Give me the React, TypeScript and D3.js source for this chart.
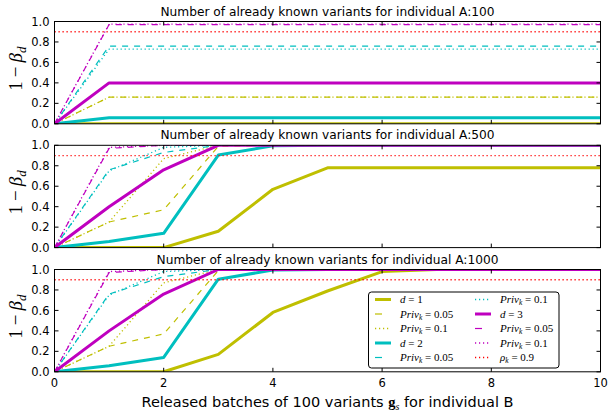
import React from "react";
import * as d3 from "d3";

const xs = [0, 1, 2, 3, 4, 5, 6, 7, 8, 9, 10];
const panelTitles = [
  "Number of already known variants for individual A:100",
  "Number of already known variants for individual A:500",
  "Number of already known variants for individual A:1000",
];

// Panel A:100
const p1_d1 = [0, 0, 0, 0, 0, 0, 0, 0, 0, 0, 0];
const p1_d1_p05 = [0, 0.26, 0.26, 0.26, 0.26, 0.26, 0.26, 0.26, 0.26, 0.26, 0.26];
const p1_d1_p10 = [0, 0.26, 0.26, 0.26, 0.26, 0.26, 0.26, 0.26, 0.26, 0.26, 0.26];
const p1_d2 = [0, 0.06, 0.06, 0.06, 0.06, 0.06, 0.06, 0.06, 0.06, 0.06, 0.06];
const p1_d2_p05 = [0, 0.76, 0.76, 0.76, 0.76, 0.76, 0.76, 0.76, 0.76, 0.76, 0.76];
const p1_d2_p10 = [0, 0.73, 0.73, 0.73, 0.73, 0.73, 0.73, 0.73, 0.73, 0.73, 0.73];
const p1_d3 = [0, 0.4, 0.4, 0.4, 0.4, 0.4, 0.4, 0.4, 0.4, 0.4, 0.4];
const p1_d3_p05 = [0, 0.97, 0.97, 0.97, 0.97, 0.97, 0.97, 0.97, 0.97, 0.97, 0.97];
const p1_d3_p10 = [0, 0.975, 0.975, 0.975, 0.975, 0.975, 0.975, 0.975, 0.975, 0.975, 0.975];

// Panel A:500
const p2_d1 = [0, 0, 0, 0.16, 0.57, 0.78, 0.78, 0.78, 0.78, 0.78, 0.78];
const p2_d1_p05 = [0, 0.25, 0.37, 0.99, 1, 1, 1, 1, 1, 1, 1];
const p2_d1_p10 = [0, 0.25, 0.87, 1, 1, 1, 1, 1, 1, 1, 1];
const p2_d2 = [0, 0.06, 0.14, 0.905, 0.995, 1, 1, 1, 1, 1, 1];
const p2_d2_p05 = [0, 0.76, 0.93, 1, 1, 1, 1, 1, 1, 1, 1];
const p2_d2_p10 = [0, 0.75, 0.98, 1, 1, 1, 1, 1, 1, 1, 1];
const p2_d3 = [0, 0.4, 0.76, 1, 1, 1, 1, 1, 1, 1, 1];
const p2_d3_p05 = [0, 0.97, 1, 1, 1, 1, 1, 1, 1, 1, 1];
const p2_d3_p10 = [0, 0.98, 1, 1, 1, 1, 1, 1, 1, 1, 1];

// Panel A:1000
const p3_d1 = [0, 0, 0, 0.17, 0.58, 0.79, 0.98, 1, 1, 1, 1];
const p3_d1_p05 = [0, 0.25, 0.37, 0.99, 1, 1, 1, 1, 1, 1, 1];
const p3_d1_p10 = [0, 0.25, 0.87, 1, 1, 1, 1, 1, 1, 1, 1];
const p3_d2 = [0, 0.06, 0.14, 0.905, 0.995, 1, 1, 1, 1, 1, 1];
const p3_d2_p05 = [0, 0.76, 0.93, 1, 1, 1, 1, 1, 1, 1, 1];
const p3_d2_p10 = [0, 0.75, 0.98, 1, 1, 1, 1, 1, 1, 1, 1];
const p3_d3 = [0, 0.4, 0.76, 1, 1, 1, 1, 1, 1, 1, 1];
const p3_d3_p05 = [0, 0.97, 1, 1, 1, 1, 1, 1, 1, 1, 1];
const p3_d3_p10 = [0, 0.98, 1, 1, 1, 1, 1, 1, 1, 1, 1];

const rhoK = 0.9;
const xTicks = [0, 2, 4, 6, 8, 10];
const yTicks = [0, 0.2, 0.4, 0.6, 0.8, 1.0];

const YEL = "#bfbf00";
const CYA = "#00bfbf";
const MAG = "#bf00bf";
const RED = "#ff0000";

type Style = { color: string; width: number; dash: string | null };
const seriesStyles: Style[] = [
  { color: YEL, width: 3, dash: null },
  { color: YEL, width: 1.2, dash: "6,6" },
  { color: YEL, width: 1.3, dash: "1.2,2.8" },
  { color: CYA, width: 3, dash: null },
  { color: CYA, width: 1.2, dash: "6,6" },
  { color: CYA, width: 1.3, dash: "1.2,2.8" },
  { color: MAG, width: 3, dash: null },
  { color: MAG, width: 1.2, dash: "6,6" },
  { color: MAG, width: 1.3, dash: "1.2,2.8" },
];
const rhoStyle: Style = { color: RED, width: 1.3, dash: "1.2,2.8" };

const panels = [
  [p1_d1, p1_d1_p05, p1_d1_p10, p1_d2, p1_d2_p05, p1_d2_p10, p1_d3, p1_d3_p05, p1_d3_p10],
  [p2_d1, p2_d1_p05, p2_d1_p10, p2_d2, p2_d2_p05, p2_d2_p10, p2_d3, p2_d3_p05, p2_d3_p10],
  [p3_d1, p3_d1_p05, p3_d1_p10, p3_d2, p3_d2_p05, p3_d2_p10, p3_d3, p3_d3_p05, p3_d3_p10],
];

type LegItem = { style: Style; label: "d" | "priv" | "rho"; value: string };
const legendItems: LegItem[] = [
  { style: seriesStyles[0], label: "d", value: "1" },
  { style: seriesStyles[1], label: "priv", value: "0.05" },
  { style: seriesStyles[2], label: "priv", value: "0.1" },
  { style: seriesStyles[3], label: "d", value: "2" },
  { style: seriesStyles[4], label: "priv", value: "0.05" },
  { style: seriesStyles[5], label: "priv", value: "0.1" },
  { style: seriesStyles[6], label: "d", value: "3" },
  { style: seriesStyles[7], label: "priv", value: "0.05" },
  { style: seriesStyles[8], label: "priv", value: "0.1" },
  { style: rhoStyle, label: "rho", value: "0.9" },
];

const L = 54.5;
const R = 600.5;
const TOPS = [21.5, 145.3, 269.5];
const H = 102.3;
const SANS = "DejaVu Sans";
const MATH = "Liberation Serif";

function Panel({ idx }: { idx: number }) {
  const top = TOPS[idx];
  const x = d3.scaleLinear().domain([0, 10]).range([L, R]);
  const y = d3.scaleLinear().domain([0, 1]).range([top + H, top]);
  const line = d3
    .line<number>()
    .x((_, i) => x(xs[i]))
    .y((v) => y(v));
  const clipId = `clip${idx}`;
  const data = panels[idx];
  return (
    <g>
      <defs>
        <clipPath id={clipId}>
          <rect x={L} y={top} width={R - L} height={H} />
        </clipPath>
      </defs>
      <text x={(L + R) / 2} y={top - 6} textAnchor="middle" fontFamily={SANS} fontSize={12.2}>
        {panelTitles[idx]}
      </text>
      <g clipPath={`url(#${clipId})`}>
        {data.map((vals, i) => (
          <path
            key={i}
            d={line(vals) || ""}
            fill="none"
            stroke={seriesStyles[i].color}
            strokeWidth={seriesStyles[i].width}
            strokeDasharray={seriesStyles[i].dash || undefined}
            strokeLinejoin="round"
          />
        ))}
        <line
          x1={x(0)}
          x2={x(10)}
          y1={y(rhoK)}
          y2={y(rhoK)}
          stroke={rhoStyle.color}
          strokeWidth={rhoStyle.width}
          strokeDasharray={rhoStyle.dash || undefined}
        />
      </g>
      <rect x={L} y={top} width={R - L} height={H} fill="none" stroke="#000" strokeWidth={1} />
      {xTicks.map((t) => (
        <g key={"xt" + t}>
          <line x1={x(t)} x2={x(t)} y1={top + H} y2={top + H - 4} stroke="#000" />
          <line x1={x(t)} x2={x(t)} y1={top} y2={top + 4} stroke="#000" />
          {idx === 2 && (
            <text x={x(t)} y={top + H + 15} textAnchor="middle" fontFamily={SANS} fontSize={11.5}>
              {t}
            </text>
          )}
        </g>
      ))}
      {yTicks.map((t) => (
        <g key={"yt" + t}>
          <line x1={L} x2={L + 4} y1={y(t)} y2={y(t)} stroke="#000" />
          <line x1={R} x2={R - 4} y1={y(t)} y2={y(t)} stroke="#000" />
          <text x={L - 5} y={y(t)} dy="0.36em" textAnchor="end" fontFamily={SANS} fontSize={11.5}>
            {t.toFixed(1)}
          </text>
        </g>
      ))}
      <text
        transform={`translate(${22},${top + H / 2 - 4}) rotate(-90)`}
        textAnchor="middle"
        fontFamily={MATH}
        fontSize={19}
      >
        <tspan>1</tspan>
        <tspan dx="4">−</tspan>
        <tspan dx="4" fontStyle="italic">β</tspan>
        <tspan fontStyle="italic" fontSize={13} dy="4">d</tspan>
      </text>
    </g>
  );
}

function Legend() {
  const lx = 368.5;
  const ly = 292;
  const w = 190.5;
  const h = 76;
  const rowY = (r: number) => 299.5 + r * 14.5;
  return (
    <g>
      <rect x={lx} y={ly} width={w} height={h} rx={3} fill="#fff" stroke="#000" strokeWidth={1} />
      {legendItems.map((it, i) => {
        const col = i < 5 ? 0 : 1;
        const row = i % 5;
        const hx = col === 0 ? 375 : 475;
        const tx = col === 0 ? 400 : 500;
        const cy = rowY(row);
        const dash = it.style.dash === "6,6" ? "7,20" : it.style.dash;
        return (
          <g key={i}>
            <line
              x1={hx}
              x2={hx + 16}
              y1={cy}
              y2={cy}
              stroke={it.style.color}
              strokeWidth={it.style.width}
              strokeDasharray={dash || undefined}
            />
            <text x={tx} y={cy} dy="0.35em" fontFamily={MATH} fontSize={11}>
              {it.label === "d" && (
                <>
                  <tspan fontStyle="italic">d</tspan>
                  <tspan>{" = " + it.value}</tspan>
                </>
              )}
              {it.label === "priv" && (
                <>
                  <tspan fontStyle="italic">Priv</tspan>
                  <tspan fontStyle="italic" fontSize={7.5} dy="2">k</tspan>
                  <tspan dy="-2">{" = " + it.value}</tspan>
                </>
              )}
              {it.label === "rho" && (
                <>
                  <tspan fontStyle="italic">ρ</tspan>
                  <tspan fontStyle="italic" fontSize={7.5} dy="2">k</tspan>
                  <tspan dy="-2">{" = " + it.value}</tspan>
                </>
              )}
            </text>
          </g>
        );
      })}
    </g>
  );
}

export default function App() {
  return (
    <svg width={608} height={416} style={{ position: "absolute", left: 0, top: 0 }}>
      <rect x={0} y={0} width={608} height={416} fill="#fff" />
      {[0, 1, 2].map((i) => (
        <Panel key={i} idx={i} />
      ))}
      <Legend />
      <text x={(L + R) / 2} y={406.5} textAnchor="middle" fontFamily={SANS} fontSize={14.5}>
        <tspan>Released batches of 100 variants </tspan>
        <tspan fontFamily={MATH} fontWeight="bold">g</tspan>
        <tspan fontFamily={MATH} fontStyle="italic" fontSize={10} dy="3">s</tspan>
        <tspan dy="-3"> for individual B</tspan>
      </text>
    </svg>
  );
}
